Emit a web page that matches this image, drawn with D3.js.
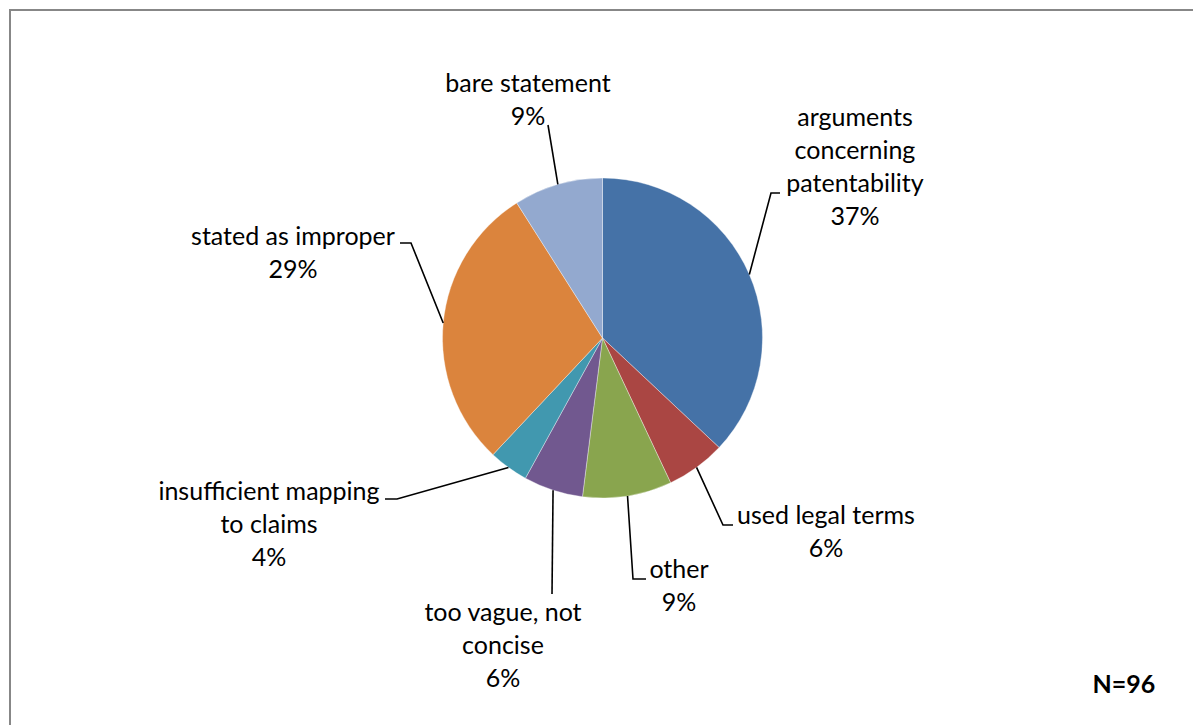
<!DOCTYPE html>
<html>
<head>
<meta charset="utf-8">
<script src="https://cdn.jsdelivr.net/npm/d3@7"></script>
<style>
  html, body { margin: 0; padding: 0; background: #fff; }
  svg { display: block; }
  text { font-family: "Lato", "Liberation Sans", sans-serif; fill: #000; }
</style>
</head>
<body>
<svg id="chart" width="1193" height="725"></svg>
<script>
// ---- data ----
const categories = [
  "arguments concerning patentability",
  "used legal terms",
  "other",
  "too vague, not concise",
  "insufficient mapping to claims",
  "stated as improper",
  "bare statement"
];
const labelLines = [
  ["arguments", "concerning", "patentability"],
  ["used legal terms"],
  ["other"],
  ["too vague, not", "concise"],
  ["insufficient mapping", "to claims"],
  ["stated as improper"],
  ["bare statement"]
];
const values = [37, 6, 9, 6, 4, 29, 9];
const colors = ["#4572A7", "#AA4643", "#89A54E", "#71588F", "#4198AF", "#DB843D", "#93A9CF"];
const noteText = "N=96";

// ---- layout (positions only) ----
const cx = 602.5, cy = 338, R = 160;
const lineH = 33;
// label center x, first baseline y, elbow point, horizontal end point
const labelLayout = [
  { x: 855, y: 126, elbow: [771, 193], end: [780, 193] },
  { x: 826, y: 524, elbow: [723, 525], end: [733, 525] },
  { x: 679, y: 578, elbow: [633, 579], end: [646, 579] },
  { x: 503, y: 621, elbow: [552, 594], end: null },
  { x: 269, y: 500, elbow: [397, 499], end: [385, 499] },
  { x: 293, y: 245, elbow: [411, 243], end: [400, 243] },
  { x: 528, y: 92,  elbow: [548, 125], end: null }
];

const svg = d3.select("#chart");

// chart frame
svg.append("rect")
  .attr("x", 10).attr("y", 10)
  .attr("width", 1200).attr("height", 740)
  .attr("fill", "#fff")
  .attr("stroke", "#878787").attr("stroke-width", 2);

const data = categories.map((c, i) => ({ name: c, value: values[i], color: colors[i], lines: labelLines[i], layout: labelLayout[i] }));

const pie = d3.pie().sort(null).value(d => d.value);
const arcs = pie(data);
const arc = d3.arc().innerRadius(0).outerRadius(R);
const total = d3.sum(values);
const fmt = v => Math.round(v / total * 100) + "%";

const g = svg.append("g").attr("transform", `translate(${cx},${cy})`);
g.selectAll("path.slice")
  .data(arcs)
  .join("path")
  .attr("class", "slice")
  .attr("d", arc)
  .attr("fill", d => d.data.color)
  .attr("stroke", "#fff")
  .attr("stroke-width", 0.6)
  .attr("stroke-opacity", 0.6);

// leader lines
arcs.forEach(a => {
  const mid = (a.startAngle + a.endAngle) / 2;
  const sx = cx + R * Math.sin(mid);
  const sy = cy - R * Math.cos(mid);
  const L = a.data.layout;
  const pts = [[sx, sy], L.elbow];
  if (L.end) pts.push(L.end);
  svg.append("path")
    .attr("d", d3.line()(pts))
    .attr("fill", "none")
    .attr("stroke", "#000")
    .attr("stroke-width", 1.6);
});

// labels
arcs.forEach(a => {
  const L = a.data.layout;
  const lines = a.data.lines.concat([fmt(a.data.value)]);
  const t = svg.append("text")
    .attr("text-anchor", "middle")
    .attr("font-size", 25);
  lines.forEach((ln, i) => {
    t.append("tspan")
      .attr("x", L.x)
      .attr("y", L.y + i * lineH)
      .text(ln);
  });
});

// note
svg.append("text")
  .attr("x", 1124).attr("y", 693)
  .attr("text-anchor", "middle")
  .attr("font-size", 25)
  .attr("font-weight", "bold")
  .text(noteText);
</script>
</body>
</html>
